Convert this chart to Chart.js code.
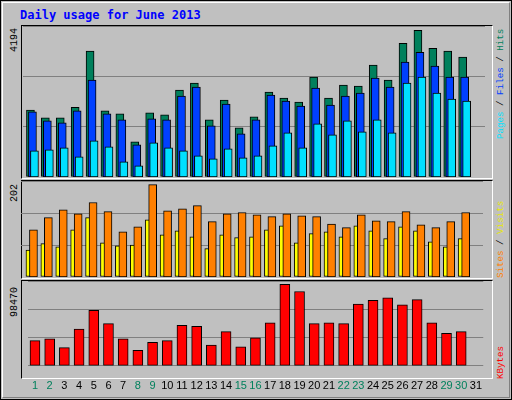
<!DOCTYPE html>
<html><head><meta charset="utf-8">
<script src="https://cdn.jsdelivr.net/npm/chart.js@4"></script>
<style>
body{margin:0;background:#fff}
#wrap{position:relative;width:510px;height:398px;background:#c0c0c0;border:1px solid #000;overflow:hidden}
#wrap:before{content:"";position:absolute;left:1px;top:1px;right:1px;bottom:1px;border:1px solid #fff;border-right-color:#808080;border-bottom-color:#808080}
.t{position:absolute;font-family:"Liberation Mono",monospace;white-space:nowrap}
.rot{transform-origin:0 0;transform:rotate(-90deg)}
.panel{position:absolute;left:20px;width:470px;border-top:1px solid #000;border-left:1px solid #000;border-right:1px solid #fff;border-bottom:1px solid #fff}
canvas{position:absolute}
</style></head><body>
<div id="wrap">
<div class="t" style="left:19px;top:7px;font-size:12px;font-weight:bold;color:#0000ff;font-family:'DejaVu Sans Mono',monospace" id="title"></div>
<div class="panel" style="top:24px;height:152px"></div>
<div class="panel" style="top:179px;height:97px"></div>
<div class="panel" style="top:279px;height:97px"></div>
<div class="t rot" style="left:8px;top:51px;font-size:10px" id="l1"></div>
<div class="t rot" style="left:8px;top:201px;font-size:10px" id="l2"></div>
<div class="t rot" style="left:8px;top:316px;font-size:10px" id="l3"></div>
<div class="t rot" style="left:494px;top:138px;font-size:9.2px"><span style="color:#00e0ff">Pages</span> / <span style="color:#0040ff">Files</span> / <span style="color:#00805c">Hits</span></div>
<div class="t rot" style="left:494px;top:277px;font-size:9.2px"><span style="color:#ff8000">Sites</span> / <span style="color:#e8e800">Visits</span></div>
<div class="t rot" style="left:494px;top:378px;font-size:9.2px;color:#ff0000">KBytes</div>
<canvas id="h" style="left:22px;top:25px;width:462px;height:151px" width="462" height="151"></canvas>
<canvas id="f" style="left:24px;top:25px;width:462px;height:151px" width="462" height="151"></canvas>
<canvas id="p" style="left:26px;top:25px;width:462px;height:151px" width="462" height="151"></canvas>
<canvas id="v" style="left:20px;top:180px;width:462px;height:96px" width="462" height="96"></canvas>
<canvas id="s" style="left:25px;top:180px;width:462px;height:96px" width="462" height="96"></canvas>
<canvas id="k" style="left:25px;top:280px;width:462px;height:118px" width="462" height="118"></canvas>
</div>
<script>
const title = "Daily usage for June 2013";
const days = Array.from({length:31},(_, i)=>String(i+1));
const weekendDays = ["1","2","8","9","15","16","22","23","29","30"];
const hits  = [1862,1641,1641,1936,3494,1835,1752,977,1779,1724,2415,2609,1586,2139,1364,1669,2360,2194,2083,2775,2194,2554,2526,3107,2692,3715,4075,3577,3494,3328,0];
const files = [1807,1558,1503,1835,2692,1752,1586,894,1613,1586,2249,2498,1420,2028,1198,1586,2277,2111,1973,2471,2000,2249,2332,2747,2498,3190,3466,3079,2775,2775,0];
const pages = [728,756,811,562,1005,839,424,313,949,811,728,590,507,784,535,590,867,1226,811,1475,1171,1558,1254,1586,1226,2609,2775,2332,2166,2111,0];
const visits= [59,73,66,103,130,75,68,70,125,92,101,88,62,92,86,88,103,112,75,95,99,88,112,101,84,110,101,77,66,84,0];
const sites = [103,130,147,138,163,143,99,110,202,145,149,156,121,138,141,136,132,138,134,132,116,108,136,123,121,143,114,108,121,141,0];
const kbytes= [30550,32705,21923,44566,67208,51035,32705,18689,28393,30550,48878,47800,25158,41331,23002,33784,52113,98470,89850,51035,52113,51035,74755,79068,82303,73677,80146,52113,39175,41331,0];
const maxLabels = ["4194","202","98470"];

document.getElementById('title').textContent = title;
document.getElementById('l1').textContent = maxLabels[0];
document.getElementById('l2').textContent = maxLabels[1];
document.getElementById('l3').textContent = maxLabels[2];

function yAx(max, grid){
  return {min:0,max:max,display:true,ticks:{display:false,stepSize:max/3},
    grid:{display:grid,color:'#808080',lineWidth:1,drawTicks:false},border:{display:false}};
}
const base = {animation:false,responsive:false,maintainAspectRatio:false,
  plugins:{legend:{display:false},tooltip:{enabled:false}},layout:{padding:0}};
function one(id, data, color, thick, max, grid){
  new Chart(document.getElementById(id),{type:'bar',
    data:{labels:days,datasets:[{data:data,backgroundColor:color,borderColor:'#000',borderWidth:1,barThickness:thick,borderSkipped:false}]},
    options:{...base,scales:{x:{display:false},y:yAx(max,grid)}}});
}
one('h',hits,'#00805c',8,4194,true);
one('f',files,'#0040ff',8,4194,false);
one('p',pages,'#00e0ff',8,4194,false);
one('v',visits,'#ffff00',5,210,true);
one('s',sites,'#ff8000',8,210,false);
new Chart(document.getElementById('k'),{type:'bar',
  data:{labels:days,datasets:[{data:kbytes,backgroundColor:'#ff0000',borderColor:'#000',borderWidth:1,barThickness:10,borderSkipped:false}]},
  options:{...base,scales:{
    x:{grid:{display:false},border:{display:false},
       ticks:{padding:6,maxRotation:0,autoSkip:false,font:{family:'Liberation Sans',size:11},
         color:c=>weekendDays.includes(days[c.index])?'#00805c':'#000'}},
    y:yAx(102600,true)}}});
</script>
</body></html>
